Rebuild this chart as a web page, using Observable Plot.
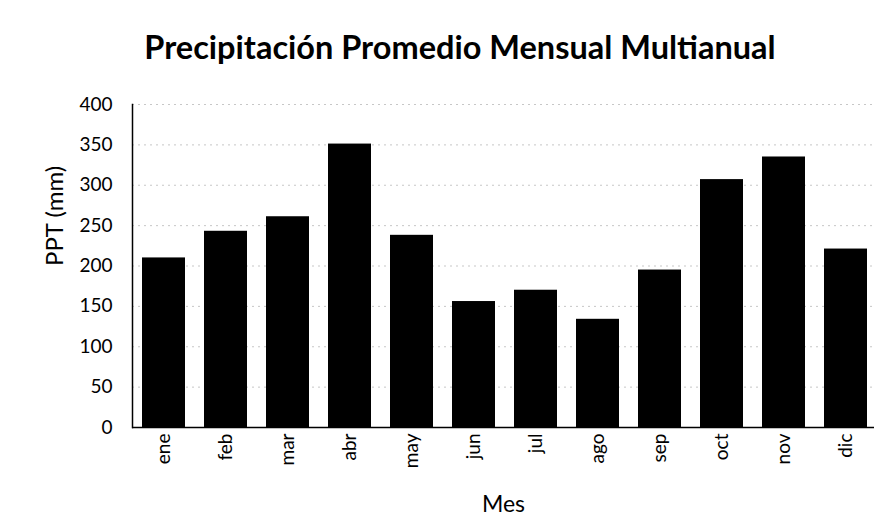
<!DOCTYPE html>
<html>
<head>
<meta charset="utf-8">
<script src="https://cdn.jsdelivr.net/npm/d3@7"></script>
<script src="https://cdn.jsdelivr.net/npm/@observablehq/plot@0.6"></script>
<style>
  html, body { margin: 0; padding: 0; background: #fff; overflow: hidden; }
  #title { width: 874px; height: 80px; box-sizing: border-box; padding-top: 29px; padding-left: 46px;
    text-align: center; font-family: Lato, "Open Sans", sans-serif; font-weight: bold; font-size: 32.5px; line-height: 36px; color: #000; white-space: nowrap; }
  #chart svg { display: block; }
</style>
</head>
<body>
<div id="title">Precipitación Promedio Mensual Multianual</div>
<div id="chart"></div>
<script>
const months = ["ene","feb","mar","abr","may","jun","jul","ago","sep","oct","nov","dic"];
const ppt = [210, 243, 261, 351, 238, 156, 170, 134, 195, 307, 335, 221];
const yTicks = [0, 50, 100, 150, 200, 250, 300, 350, 400];
const yLabel = ["PPT (mm)"];
const xLabel = ["Mes"];

const data = months.map((m, i) => ({mes: m, ppt: ppt[i]}));

const chart = Plot.plot({
  width: 874,
  height: 448,
  marginTop: 24,
  marginBottom: 101,
  marginLeft: 132,
  marginRight: 0,
  style: {fontFamily: "Lato, 'Open Sans', sans-serif", fontSize: "19px", color: "#000", background: "#fff", maxWidth: "none", overflow: "hidden"},
  x: {domain: months, range: [132, 878], paddingInner: 0.3, paddingOuter: 0.15, label: null},
  y: {domain: [0, 400], label: null},
  marks: [
    Plot.gridY(yTicks, {stroke: "#999", strokeOpacity: 0.55, strokeDasharray: "2,4"}),
    Plot.barY(data, {x: "mes", y: "ppt", fill: "#000"}),
    Plot.ruleY([0], {stroke: "#000", strokeWidth: 1.5}),
    Plot.frame({anchor: "left", stroke: "#000", strokeWidth: 1.5}),
    Plot.axisY(yTicks, {tickSize: 0, tickPadding: 20, fontSize: 19, label: null}),
    Plot.axisX({tickSize: 0, tickPadding: 6, tickRotate: -90, fontSize: 19, label: null}),
    Plot.text(yLabel, {text: d => d, frameAnchor: "left", rotate: -90, dx: -77, fontSize: 24, fill: "#000"}),
    Plot.text(xLabel, {text: d => d, frameAnchor: "bottom", dy: 84, fontSize: 23, fill: "#000"})
  ]
});
document.getElementById("chart").appendChild(chart);
</script>
</body>
</html>
